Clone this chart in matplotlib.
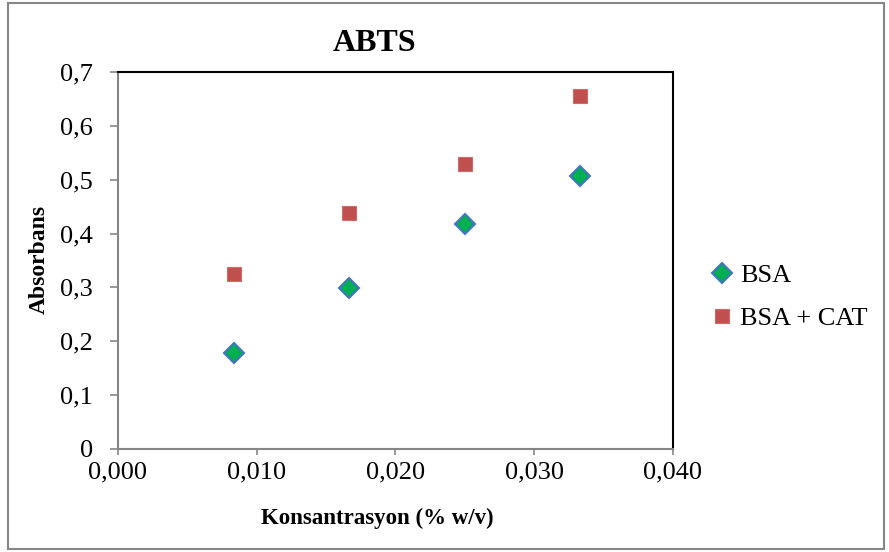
import matplotlib
matplotlib.use("Agg")
import matplotlib.pyplot as plt
from matplotlib.patches import Rectangle
from matplotlib.ticker import FuncFormatter

# Konsantrasyon (% w/v) ve absorbans değerleri
konsantrasyon = [1 / 120, 1 / 60, 1 / 40, 1 / 30]
bsa = [0.178, 0.298, 0.417, 0.506]
bsa_cat = [0.325, 0.438, 0.530, 0.655]
seri_adlari = ["BSA", "BSA + CAT"]

plt.rcParams['font.family'] = ['Liberation Serif', 'DejaVu Serif']

fig = plt.figure(figsize=(8.89, 5.52), dpi=100)
ax = fig.add_axes([0.1327, 0.1866, 0.7570 - 0.1327, 0.8696 - 0.1866])

ax.plot(konsantrasyon, bsa, linestyle='none', marker='D', markersize=10,
        markerfacecolor='#00B050', markeredgecolor='#4472C4', markeredgewidth=1.5,
        label=seri_adlari[0])
ax.plot(konsantrasyon, bsa_cat, linestyle='none', marker='s', markersize=10.5,
        markerfacecolor='#C0504D', markeredgecolor='#D06A67', markeredgewidth=0.8,
        label=seri_adlari[1])

ax.set_xlim(0, 0.04)
ax.set_ylim(0, 0.7)
ax.set_xticks([0, 0.01, 0.02, 0.03, 0.04])
ax.set_yticks([0, 0.1, 0.2, 0.3, 0.4, 0.5, 0.6, 0.7])
ax.xaxis.set_major_formatter(FuncFormatter(lambda v, p: f"{v:.3f}".replace('.', ',')))
ax.yaxis.set_major_formatter(FuncFormatter(lambda v, p: "0" if v == 0 else f"{v:.1f}".replace('.', ',')))
ax.tick_params(axis='both', labelsize=19, colors='#868686', labelcolor='black', width=1.2)
ax.tick_params(axis='y', length=6, pad=12)
ax.tick_params(axis='x', length=4, pad=5)

for s in ('left', 'bottom'):
    ax.spines[s].set_color('#868686')
    ax.spines[s].set_linewidth(1.5)
for s in ('top', 'right'):
    ax.spines[s].set_color('black')
    ax.spines[s].set_linewidth(1.5)

# başlık ve eksen adları
fig.text(0.421, 0.922, 'ABTS', fontsize=23, fontweight='bold', ha='center', va='center')
fig.text(0.424, 0.060, 'Konsantrasyon (% w/v)', fontsize=16.5, fontweight='bold',
         ha='center', va='center')
fig.text(0.044, 0.530, 'Absorbans', fontsize=17, fontweight='bold', rotation=90,
         ha='center', va='center')

fig.legend(loc='center left', bbox_to_anchor=(0.773, 0.462), frameon=False,
           fontsize=19, handlelength=0.8, handletextpad=0.3, labelspacing=0.75)

# dış çerçeve
fig.patches.append(Rectangle((0.009, 0.006), 0.985, 0.988, transform=fig.transFigure,
                             fill=False, edgecolor='#868686', linewidth=1.5))

fig.savefig('out.png', dpi=100)
